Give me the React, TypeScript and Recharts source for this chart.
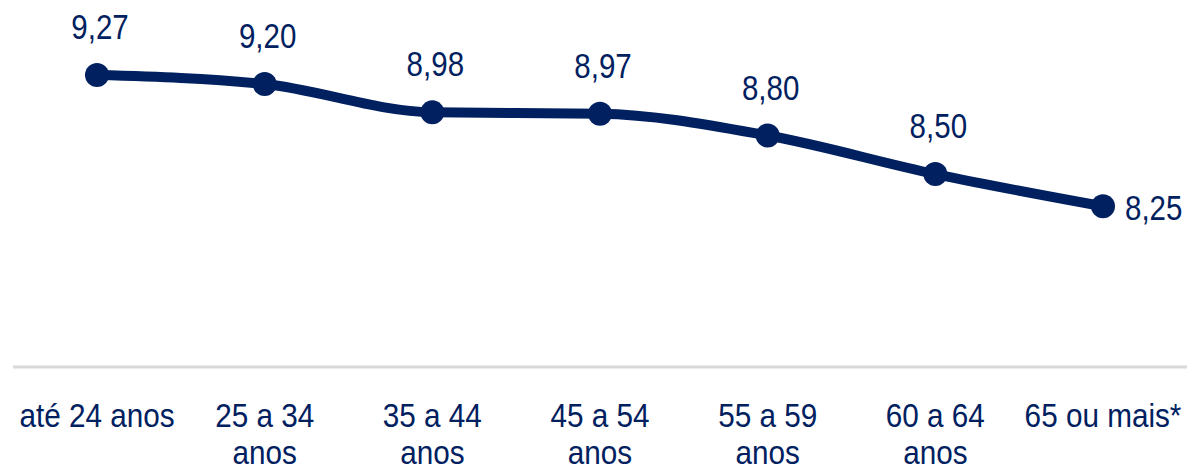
import React from "react";
import { LineChart, Line, XAxis, YAxis, LabelList } from "recharts";

const categories = [
  "até 24 anos",
  "25 a 34\nanos",
  "35 a 44\nanos",
  "45 a 54\nanos",
  "55 a 59\nanos",
  "60 a 64\nanos",
  "65 ou mais*",
];
const values = [9.27, 9.2, 8.98, 8.97, 8.8, 8.5, 8.25];

const data = categories.map((c, i) => ({ name: c, value: values[i] }));

const NAVY = "#002060";
const FONT = "'Liberation Sans', Arial, sans-serif";
const NARROW = 0.82;

const fmt = (v: number) => v.toFixed(2).replace(".", ",");

const CategoryTick = (props: any) => {
  const { x, y, payload } = props;
  const lines = String(payload.value).split("\n");
  return (
    <text
      transform={`translate(${x},${y}) scale(0.9,1)`}
      x={0}
      y={0}
      textAnchor="middle"
      fill={NAVY}
      fontSize={33}
      fontFamily={FONT}
    >
      {lines.map((l, i) => (
        <tspan key={i} x={0} dy={i === 0 ? 60 : 37.5}>
          {l}
        </tspan>
      ))}
    </text>
  );
};

const ValueLabel = (props: any) => {
  const { x, y, value, index } = props;
  const last = index === values.length - 1;
  const tx = last ? x + 22 : x + 3;
  const ty = last ? y + 14 : y - 36;
  return (
    <text
      transform={`translate(${tx},${ty}) scale(${NARROW},1)`}
      x={0}
      y={0}
      textAnchor={last ? "start" : "middle"}
      fill={NAVY}
      fontSize={36}
      fontFamily={FONT}
    >
      {fmt(value)}
    </text>
  );
};

export default function App() {
  return (
    <div style={{ position: "absolute", left: 0, top: 0, background: "#fff" }}>
      <LineChart
        width={1192}
        height={472}
        data={data}
        margin={{ top: 45.5, right: 5, bottom: 0, left: 13 }}
      >
        <XAxis
          dataKey="name"
          height={105}
          padding={{ left: 84, right: 84 }}
          tickLine={false}
          tickSize={0}
          tickMargin={0}
          axisLine={{ stroke: "#d9d9d9", strokeWidth: 3 }}
          tick={<CategoryTick />}
          interval={0}
        />
        <YAxis hide domain={[7, 9.5]} />
        <Line
          type="monotone"
          dataKey="value"
          stroke={NAVY}
          strokeWidth={10}
          dot={{ r: 12, fill: NAVY, stroke: "none" }}
          activeDot={false}
          isAnimationActive={false}
        >
          <LabelList dataKey="value" content={<ValueLabel />} />
        </Line>
      </LineChart>
    </div>
  );
}
